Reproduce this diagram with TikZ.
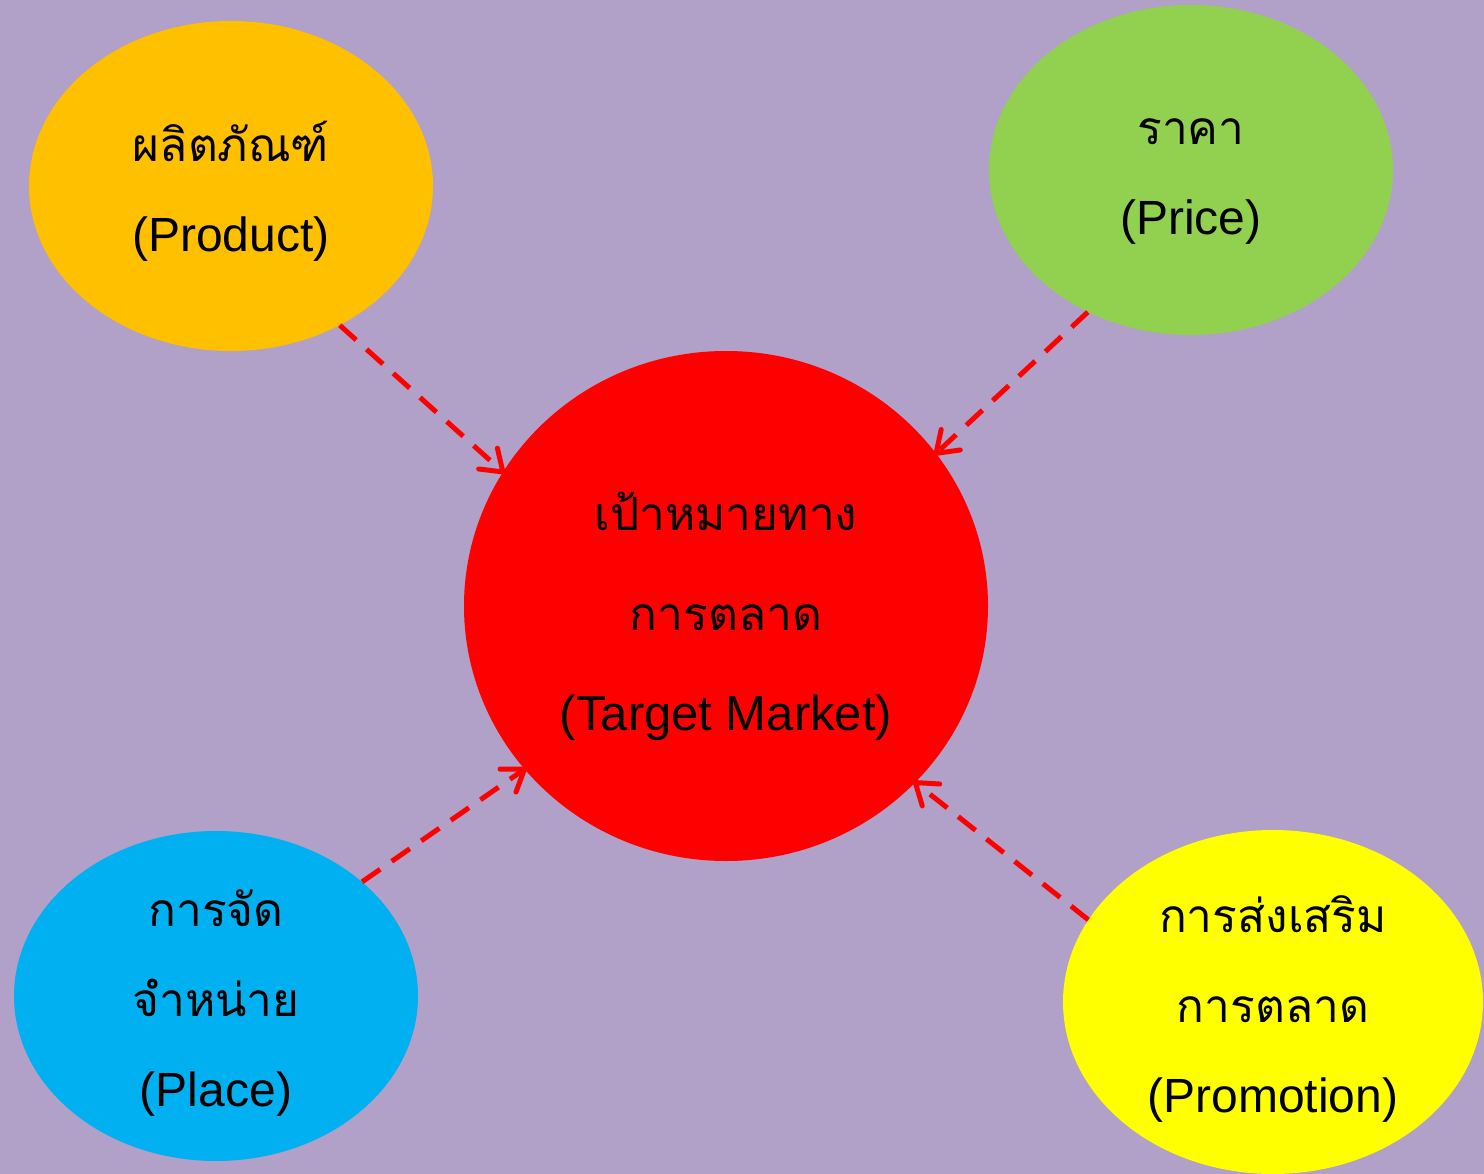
\documentclass[tikz,border=0pt]{standalone}
\usepackage{fontspec}
\setmainfont{Liberation Sans}
\newfontfamily\thaifont[Script=Thai]{Loma}
\usetikzlibrary{shapes.geometric,decorations.markings}
\definecolor{bgc}{HTML}{B1A0C7}
\definecolor{prodc}{HTML}{FFC000}
\definecolor{pricec}{HTML}{92D050}
\definecolor{placec}{HTML}{00B0F0}
\definecolor{promoc}{HTML}{FFFF00}
\definecolor{tgtc}{HTML}{FF0000}
\newcommand{\thtxt}[1]{{\thaifont\fontsize{46}{90}\selectfont #1}}
\tikzset{
  bubble/.style={ellipse, inner sep=0pt, minimum width=404pt, minimum height=330pt},
  txt/.style={inner sep=0pt, align=center, text=black,
    font=\fontsize{48}{90}\selectfont},
  link/.style={draw=tgtc, line width=5pt, dash pattern=on 22pt off 14pt,
    postaction={decorate},
    decoration={markings, mark=at position 1 with
      {\draw[solid, tgtc, line width=5pt, line cap=round, line join=round]
        (-20pt,-14pt) -- (0,0) -- (-20pt,14pt);}}}
}
\begin{document}
\begin{tikzpicture}[x=1pt,y=-1pt]
\fill[bgc] (0,0) rectangle (1484,1174);
\useasboundingbox (0,0) rectangle (1484,1174);
\node[bubble, fill=prodc] (prod) at (231,186) {};
\node[bubble, fill=pricec] (price) at (1191,170) {};
\node[bubble, fill=placec] (place) at (216,996) {};
\node[bubble, fill=promoc, minimum width=420pt, minimum height=344pt] (promo) at (1273,1002) {};
\node[bubble, fill=tgtc, minimum width=524pt, minimum height=510pt] (tgt) at (726,606) {};
\node[txt] (prodt) at (231,191) {\thtxt{ผลิตภัณฑ์}\\(Product)};
\node[txt] (pricet) at (1191,182) {\thtxt{ราคา}\\(Price)};
\node[txt] (placet) at (216,1003) {\thtxt{การจัด}\\\thtxt{จำหน่าย}\\(Place)};
\node[txt] (promot) at (1273,1009) {\thtxt{การส่งเสริม}\\\thtxt{การตลาด}\\(Promotion)};
\node[txt, font=\fontsize{49}{100}\selectfont] (tgtt) at (726,616) {\thtxt{เป้าหมายทาง}\\\thtxt{การตลาด}\\(Target Market)};
\draw[link] (prod.-52.8) -- (tgt.149.7);
\draw[link] (price.-126.6) -- (tgt.36.6);
\draw[link] (place.38.9) -- (tgt.219.1);
\draw[link] (promo.156.8) -- (tgt.-43.6);
\end{tikzpicture}
\end{document}
